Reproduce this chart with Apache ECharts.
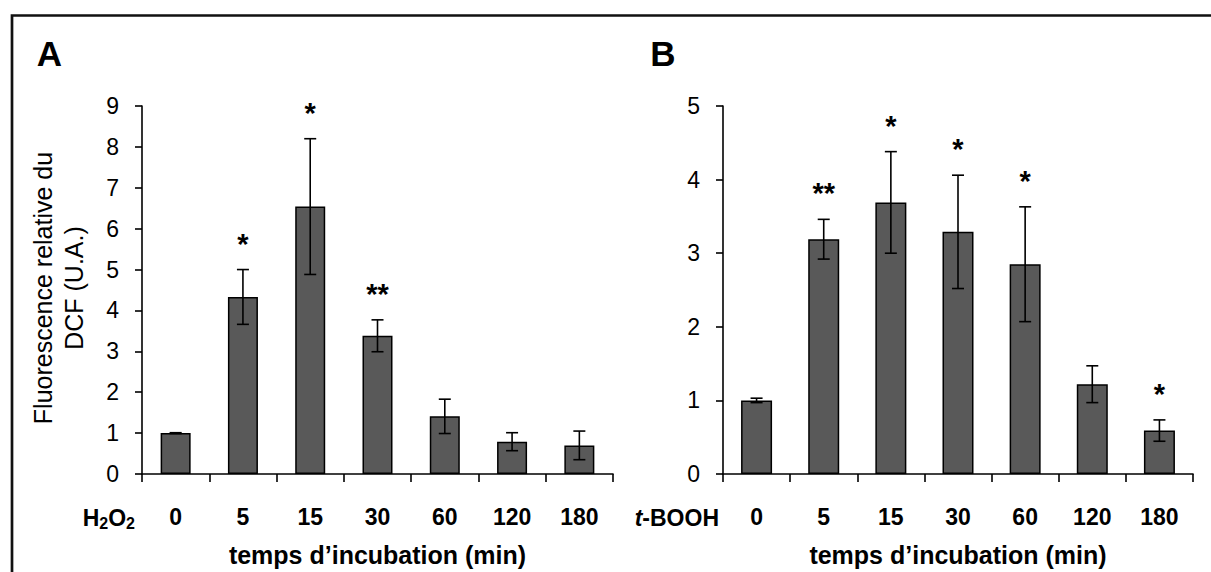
<!DOCTYPE html>
<html>
<head>
<meta charset="utf-8">
<script src="https://cdn.jsdelivr.net/npm/echarts@6/dist/echarts.min.js"></script>
<style>
html,body{margin:0;padding:0;background:#fff;}
#chart{width:1211px;height:572px;}
</style>
</head>
<body>
<div id="chart"></div>
<script>
// ---- data ----
const categories = ['0', '5', '15', '30', '60', '120', '180'];
const meansA = [1.0, 4.33, 6.54, 3.38, 1.41, 0.79, 0.70];
const errA   = [0.01, 0.67, 1.66, 0.39, 0.42, 0.22, 0.35];
const starsA = ['', '*', '*', '**', '', '', ''];
const meansB = [1.0, 3.19, 3.69, 3.29, 2.85, 1.22, 0.59];
const errB   = [0.03, 0.27, 0.69, 0.77, 0.78, 0.25, 0.145];
const starsB = ['', '**', '*', '*', '*', '', '*'];
const yTicksA = {min: 0, max: 9, interval: 1};
const yTicksB = {min: 0, max: 5, interval: 1};
const xTitle = 'temps d\u2019incubation (min)';
const yTitle = 'Fluorescence relative du\nDCF (U.A.)';

const FONT = '"Liberation Sans", Arial, sans-serif';
const chart = echarts.init(document.getElementById('chart'), null, {renderer: 'svg'});

function errRender(stars) {
  return function (params, api) {
    const i = api.value(0), m = api.value(1), e = api.value(2);
    const top = api.coord([i, m + e]);
    const bot = api.coord([i, m - e]);
    const cap = 6;
    const st = {stroke: '#000', lineWidth: 1.6};
    const children = [
      {type: 'line', shape: {x1: top[0], y1: top[1], x2: bot[0], y2: bot[1]}, style: st},
      {type: 'line', shape: {x1: top[0] - cap, y1: top[1], x2: top[0] + cap, y2: top[1]}, style: st},
      {type: 'line', shape: {x1: bot[0] - cap, y1: bot[1], x2: bot[0] + cap, y2: bot[1]}, style: st}
    ];
    if (stars[i]) {
      children.push({type: 'text', style: {text: stars[i], x: top[0], y: top[1] - 26,
        align: 'center', verticalAlign: 'middle', fontSize: 29, fontWeight: 'bold', fontFamily: FONT, fill: '#000'}});
    }
    return {type: 'group', children: children};
  };
}

function xAxis(gi) {
  return {
    type: 'category', gridIndex: gi, data: categories,
    axisLine: {lineStyle: {color: '#000', width: 1.6}},
    axisTick: {show: true, length: 8, lineStyle: {color: '#000', width: 1.6}},
    axisLabel: {color: '#000', fontSize: 23, fontWeight: 'bold', fontFamily: FONT, margin: 31},
    name: xTitle, nameLocation: 'middle', nameGap: 68,
    nameTextStyle: {color: '#000', fontSize: 25, fontWeight: 'bold', fontFamily: FONT}
  };
}
function yAxis(gi, t) {
  return {
    type: 'value', gridIndex: gi, min: t.min, max: t.max, interval: t.interval,
    splitLine: {show: false},
    axisLine: {show: true, lineStyle: {color: '#000', width: 1.6}},
    axisTick: {show: true, length: 7, lineStyle: {color: '#000', width: 1.6}},
    axisLabel: {color: '#000', fontSize: 23, fontFamily: FONT, margin: 23}
  };
}

const option = {
  backgroundColor: '#fff',
  animation: false,
  grid: [
    {left: 142, top: 106, width: 471, height: 368},
    {left: 723, top: 106, width: 470, height: 368}
  ],
  xAxis: [xAxis(0), xAxis(1)],
  yAxis: [yAxis(0, yTicksA), yAxis(1, yTicksB)],
  series: [
    {type: 'bar', xAxisIndex: 0, yAxisIndex: 0, data: meansA, barWidth: 30,
     itemStyle: {color: '#595959', borderColor: '#000', borderWidth: 1.5}},
    {type: 'bar', xAxisIndex: 1, yAxisIndex: 1, data: meansB, barWidth: 31,
     itemStyle: {color: '#595959', borderColor: '#000', borderWidth: 1.5}},
    {type: 'custom', xAxisIndex: 0, yAxisIndex: 0, z: 10, renderItem: errRender(starsA),
     data: categories.map((c, i) => [i, meansA[i], errA[i]])},
    {type: 'custom', xAxisIndex: 1, yAxisIndex: 1, z: 10, renderItem: errRender(starsB),
     data: categories.map((c, i) => [i, meansB[i], errB[i]])}
  ],
  graphic: [
    {type: 'polyline', shape: {points: [[12, 590], [12, 15.5], [1230, 15.5]]},
     style: {stroke: '#111', lineWidth: 2.7, fill: null}},
    {type: 'text', x: 49.5, y: 53, style: {text: 'A', fontSize: 35, fontWeight: 'bold', fontFamily: FONT,
     fill: '#000', align: 'center', verticalAlign: 'middle'}},
    {type: 'text', x: 663, y: 53, style: {text: 'B', fontSize: 35, fontWeight: 'bold', fontFamily: FONT,
     fill: '#000', align: 'center', verticalAlign: 'middle'}},
    {type: 'text', x: 58.5, y: 288, rotation: Math.PI / 2,
     style: {text: yTitle, fontSize: 25, lineHeight: 31, fontFamily: FONT, fill: '#000',
     align: 'center', verticalAlign: 'middle'}},
    {type: 'text', x: 135, y: 518,
     style: {text: 'H{s|2}O{s|2}', fontSize: 23, fontWeight: 'bold', fontFamily: FONT, fill: '#000',
       align: 'right', verticalAlign: 'middle', lineHeight: 26,
       rich: {s: {fontSize: 16, fontWeight: 'bold', fontFamily: FONT, fill: '#000', verticalAlign: 'bottom', lineHeight: 26}}}},
    {type: 'text', x: 719, y: 518,
     style: {text: '{i|t}-BOOH', fontSize: 23, fontWeight: 'bold', fontFamily: FONT, fill: '#000',
       align: 'right', verticalAlign: 'middle',
       rich: {i: {fontSize: 23, fontWeight: 'bold', fontStyle: 'italic', fontFamily: FONT, fill: '#000'}}}}
  ]
};
chart.setOption(option);
</script>
</body>
</html>
